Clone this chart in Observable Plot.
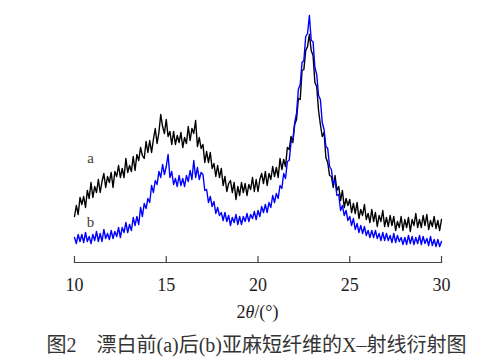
<!DOCTYPE html>
<html>
<head>
<meta charset="utf-8">
<script src="https://cdn.jsdelivr.net/npm/d3@7"></script>
<script src="https://cdn.jsdelivr.net/npm/@observablehq/plot@0.6"></script>
<style>
  html, body { margin: 0; padding: 0; background: #fff; }
  #chart svg { display: block; }
  .caption {
    font-family: "Liberation Serif", "Noto Sans CJK SC", serif;
    font-size: 20px; line-height: 24px; color: #333;
    text-align: center; margin-top: 8px; width: 503px; padding-left: 10px; box-sizing: border-box;
  }
</style>
</head>
<body>
<div id="chart"></div>
<div class="caption">图2　漂白前(a)后(b)亚麻短纤维的X–射线衍射图</div>
<script>
// 2θ (degrees)
const theta = [
  10.0,10.1,10.2,10.3,10.4,10.5,10.6,10.7,10.8,10.9,
  11.0,11.1,11.2,11.3,11.4,11.5,11.6,11.7,11.8,11.9,
  12.0,12.1,12.2,12.3,12.4,12.5,12.6,12.7,12.8,12.9,
  13.0,13.1,13.2,13.3,13.4,13.5,13.6,13.7,13.8,13.9,
  14.0,14.1,14.2,14.3,14.4,14.5,14.6,14.7,14.8,14.9,
  15.0,15.1,15.2,15.3,15.4,15.5,15.6,15.7,15.8,15.9,
  16.0,16.1,16.2,16.3,16.4,16.5,16.6,16.7,16.8,16.9,
  17.0,17.1,17.2,17.3,17.4,17.5,17.6,17.7,17.8,17.9,
  18.0,18.1,18.2,18.3,18.4,18.5,18.6,18.7,18.8,18.9,
  19.0,19.1,19.2,19.3,19.4,19.5,19.6,19.7,19.8,19.9,
  20.0,20.1,20.2,20.3,20.4,20.5,20.6,20.7,20.8,20.9,
  21.0,21.1,21.2,21.3,21.4,21.5,21.6,21.7,21.8,21.9,
  22.0,22.1,22.2,22.3,22.4,22.5,22.6,22.7,22.8,22.9,
  23.0,23.1,23.2,23.3,23.4,23.5,23.6,23.7,23.8,23.9,
  24.0,24.1,24.2,24.3,24.4,24.5,24.6,24.7,24.8,24.9,
  25.0,25.1,25.2,25.3,25.4,25.5,25.6,25.7,25.8,25.9,
  26.0,26.1,26.2,26.3,26.4,26.5,26.6,26.7,26.8,26.9,
  27.0,27.1,27.2,27.3,27.4,27.5,27.6,27.7,27.8,27.9,
  28.0,28.1,28.2,28.3,28.4,28.5,28.6,28.7,28.8,28.9,
  29.0,29.1,29.2,29.3,29.4,29.5,29.6,29.7,29.8,29.9,
  30.0
];
// intensity (a.u.), before bleaching (a)
const intensityA = [
  46,57,48,65,58,66,55,72,64,80,
  65,76,70,83,70,81,89,75,86,80,
  90,75,91,86,97,85,94,85,104,90,
  97,91,106,92,108,102,115,107,104,121,
  110,122,110,123,134,119,130,148,136,129,
  143,126,131,118,131,118,127,120,130,115,
  125,119,136,122,134,129,142,116,125,114,
  118,100,111,100,110,94,99,86,97,85,
  94,77,86,71,79,82,70,80,63,76,
  67,80,70,79,67,78,73,85,71,83,
  71,83,89,79,91,77,89,83,96,86,
  95,85,104,93,103,96,115,113,126,120,
  138,143,164,163,192,193,212,216,228,212,
  207,180,176,152,138,126,130,105,100,87,
  86,75,87,72,76,62,72,55,64,57,
  63,50,59,49,60,44,53,47,58,43,
  49,40,53,41,50,36,47,41,52,36,
  45,36,47,37,46,32,41,35,46,32,
  43,35,45,31,43,37,49,35,43,35,
  47,37,48,33,42,36,46,34,42,32,
  43
];
// intensity (a.u.), after bleaching (b)
const intensityB = [
  25,19,28,21,28,20,30,21,26,19,
  28,22,31,21,29,21,33,24,29,23,
  32,24,31,26,35,25,35,30,40,30,
  38,32,45,37,46,38,55,46,59,54,
  64,60,77,70,82,78,91,85,98,88,
  96,108,85,91,78,84,76,87,77,84,
  76,87,81,92,83,102,85,95,83,90,
  88,72,73,60,66,56,61,49,55,47,
  50,42,50,41,47,37,45,40,48,38,
  46,38,46,41,49,41,48,44,51,43,
  52,46,56,50,58,50,60,55,67,60,
  69,64,77,74,89,84,101,102,120,123,
  140,149,173,178,200,202,226,229,247,222,
  221,195,188,167,163,140,133,116,114,96,
  93,79,82,67,68,52,57,47,52,42,
  46,37,44,33,39,30,37,29,36,27,
  32,25,32,25,32,24,29,22,30,22,
  29,22,27,20,29,20,27,21,25,18,
  25,18,27,19,26,18,25,19,27,18,
  26,19,24,17,26,17,23,16,23,16,
  21
];
const xTicks = [10, 15, 20, 25, 30];
const seriesLabels = ["a", "b"];
const labelTheta = [10.87, 10.87];
const labelIntensity = [104, 40];

const dataA = theta.map((t, i) => ({t, v: intensityA[i]}));
const dataB = theta.map((t, i) => ({t, v: intensityB[i]}));
const labels = seriesLabels.map((s, i) => ({s, t: labelTheta[i], v: labelIntensity[i]}));

const serif = "'Liberation Serif', 'Times New Roman', serif";

const svg = Plot.plot({
  width: 503,
  height: 325,
  marginLeft: 74,
  marginRight: 62,
  marginTop: 10,
  marginBottom: 63,
  style: {fontFamily: serif, background: "#fff", overflow: "visible"},
  x: {domain: [10, 30]},
  y: {domain: [0, 252], axis: null},
  marks: [
    Plot.frame({anchor: "bottom", stroke: "#444", strokeWidth: 1.2}),
    Plot.axisX({ticks: xTicks, tickSize: 6, dy: -6, text: null, label: null, stroke: "#444", strokeWidth: 1.2}),
    Plot.axisX({ticks: xTicks, tickSize: 0, tickPadding: 16, fontSize: 18, fill: "#222", label: null}),
    Plot.line(dataA, {x: "t", y: "v", stroke: "#000", strokeWidth: 1.4}),
    Plot.line(dataB, {x: "t", y: "v", stroke: "#0000ff", strokeWidth: 1.4}),
    Plot.text(labels, {x: "t", y: "v", text: "s", fontSize: 15, fill: "#4a4038", fontFamily: serif})
  ]
});

const lab = d3.select(svg).append("text")
  .attr("x", 257.5).attr("y", 318)
  .attr("text-anchor", "middle")
  .attr("font-family", serif).attr("font-size", 18).attr("fill", "#222");
lab.append("tspan").text("2");
lab.append("tspan").attr("font-style", "italic").text("θ");
lab.append("tspan").text("/(°)");

document.getElementById("chart").appendChild(svg);
</script>
</body>
</html>
